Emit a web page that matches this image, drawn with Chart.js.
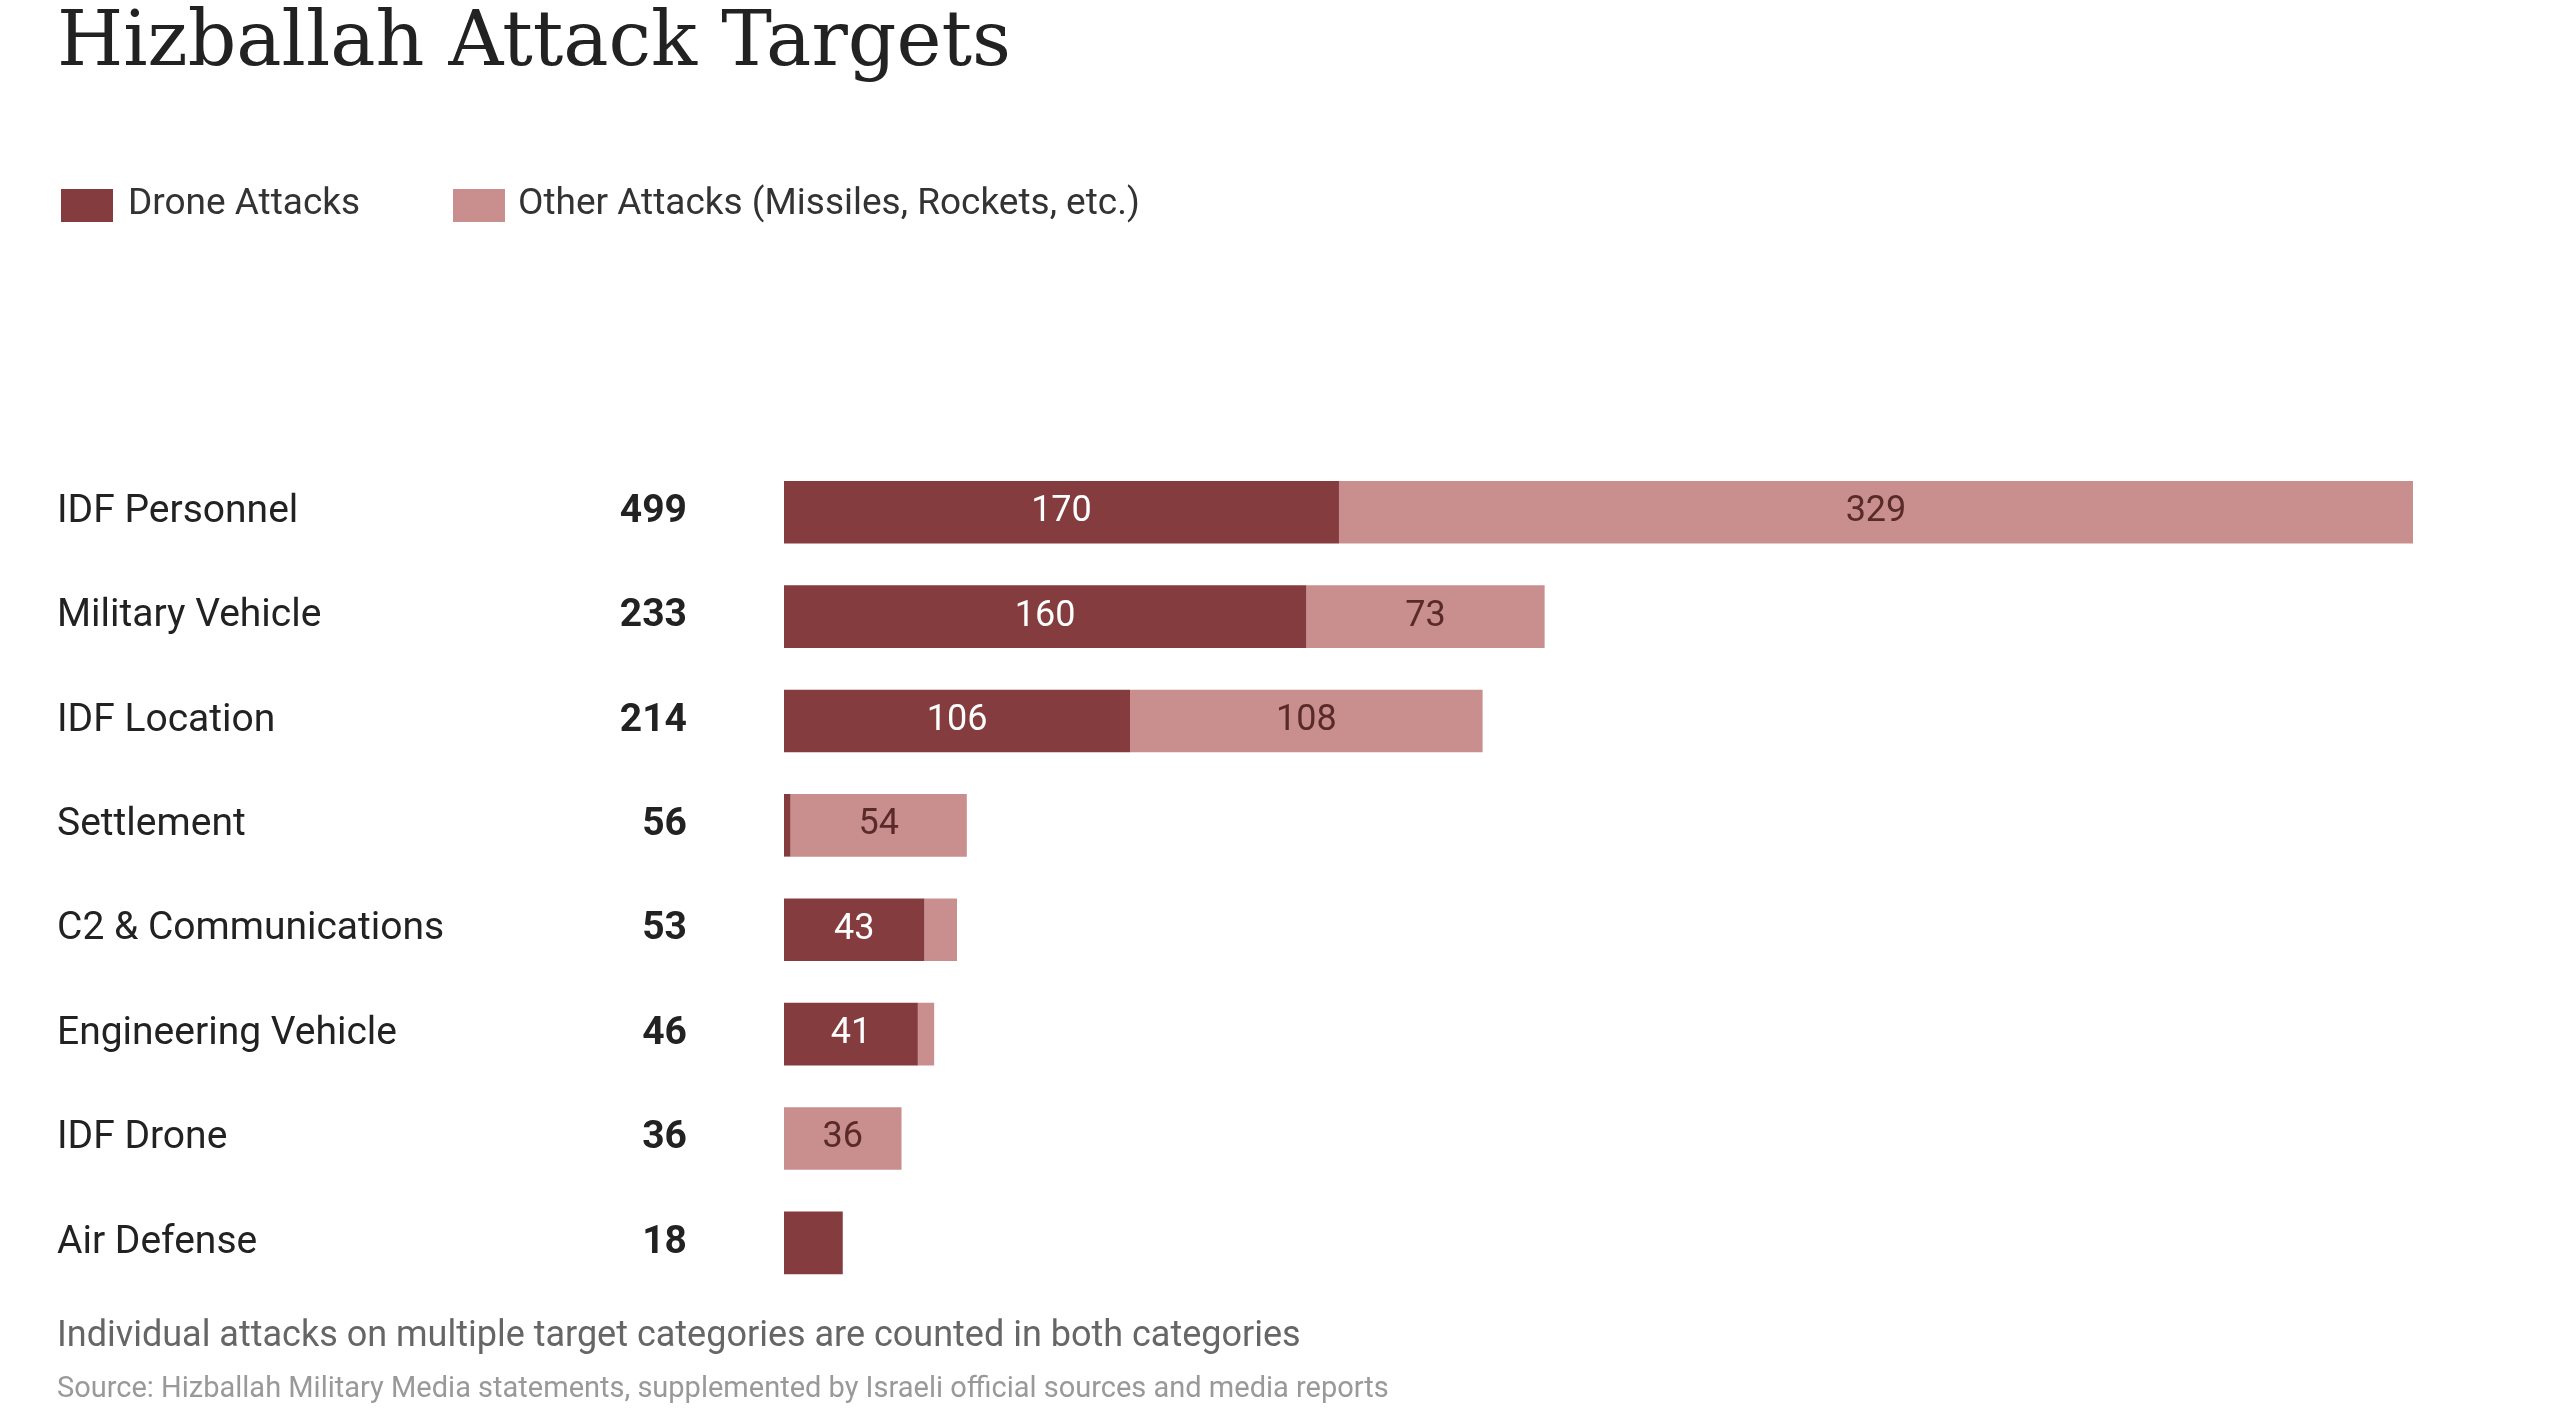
<!DOCTYPE html>
<html>
<head>
<meta charset="utf-8">
<script src="https://cdn.jsdelivr.net/npm/chart.js@4"></script>
<style>
  body { margin: 0; background: #fff; font-family: Roboto, sans-serif; }
  #wrap { position: relative; width: 2560px; height: 1422px; }
  canvas { position: absolute; left: 0; top: 0; }
  .t { position: absolute; white-space: nowrap; }
  #title { left: 57px; top: -6px; font-family: "DejaVu Serif", serif; font-size: 76px; color: #222; }
  .sw { position: absolute; width: 52px; height: 33px; top: 189px; }
  .lg { top: 180px; font-size: 37px; color: #333; }
  #note { left: 57px; top: 1313px; font-size: 36px; color: #666; }
  #src { left: 57px; top: 1370px; font-size: 29px; color: #999; }
</style>
</head>
<body>
<div id="wrap">
  <canvas id="resultsChart" width="2560" height="1422"></canvas>
  <div class="t" id="title">Hizballah Attack Targets</div>
  <div class="sw" style="left:61px;background:#843c3f"></div>
  <div class="t lg" style="left:128px">Drone Attacks</div>
  <div class="sw" style="left:453px;background:#c98f8f"></div>
  <div class="t lg" style="left:518px">Other Attacks (Missiles, Rockets, etc.)</div>
  <div class="t" id="note">Individual attacks on multiple target categories are counted in both categories</div>
  <div class="t" id="src">Source: Hizballah Military Media statements, supplemented by Israeli official sources and media reports</div>
</div>
<script>
const labels = ['IDF Personnel', 'Military Vehicle', 'IDF Location', 'Settlement',
    'C2 & Communications', 'Engineering Vehicle', 'IDF Drone', 'Air Defense'];
const drone = [170, 160, 106, 2, 43, 41, 0, 18];
const other = [329, 73, 108, 54, 10, 5, 36, 0];

const sideLabels = {
    id: 'sideLabels',
    afterDatasetsDraw(chart) {
        const c = chart.ctx;
        const y = chart.scales.y;
        c.save();
        c.textBaseline = 'middle';
        labels.forEach((l, i) => {
            const py = y.getPixelForValue(i);
            c.fillStyle = '#222';
            c.font = '39px Roboto';
            c.textAlign = 'left';
            c.fillText(l, 57, py);
            c.font = 'bold 39px Roboto';
            c.textAlign = 'right';
            c.fillText(drone[i] + other[i], 687, py);
        });
        chart.data.datasets.forEach((ds, di) => {
            chart.getDatasetMeta(di).data.forEach((bar, i) => {
                const v = ds.data[i];
                if (v < 30) return;
                c.font = '36px Roboto';
                c.textAlign = 'center';
                c.fillStyle = di === 0 ? '#fff' : '#5a2a2a';
                c.fillText(v, (bar.x + bar.base) / 2, bar.y);
            });
        });
        c.restore();
    }
};

new Chart(document.getElementById('resultsChart'), {
    type: 'bar',
    data: {
        labels: labels,
        datasets: [
            { label: 'Drone Attacks', data: drone, backgroundColor: '#843c3f' },
            { label: 'Other Attacks (Missiles, Rockets, etc.)', data: other, backgroundColor: '#c98f8f' }
        ]
    },
    options: {
        indexAxis: 'y',
        responsive: false,
        animation: false,
        layout: { padding: { left: 784, right: 147, top: 460, bottom: 127 } },
        datasets: { bar: { barPercentage: 0.6, categoryPercentage: 1 } },
        scales: {
            x: { stacked: true, min: 0, max: 499, display: false },
            y: { stacked: true, display: false }
        },
        plugins: { legend: { display: false }, tooltip: { enabled: false } }
    },
    plugins: [sideLabels]
});
</script>
</body>
</html>
